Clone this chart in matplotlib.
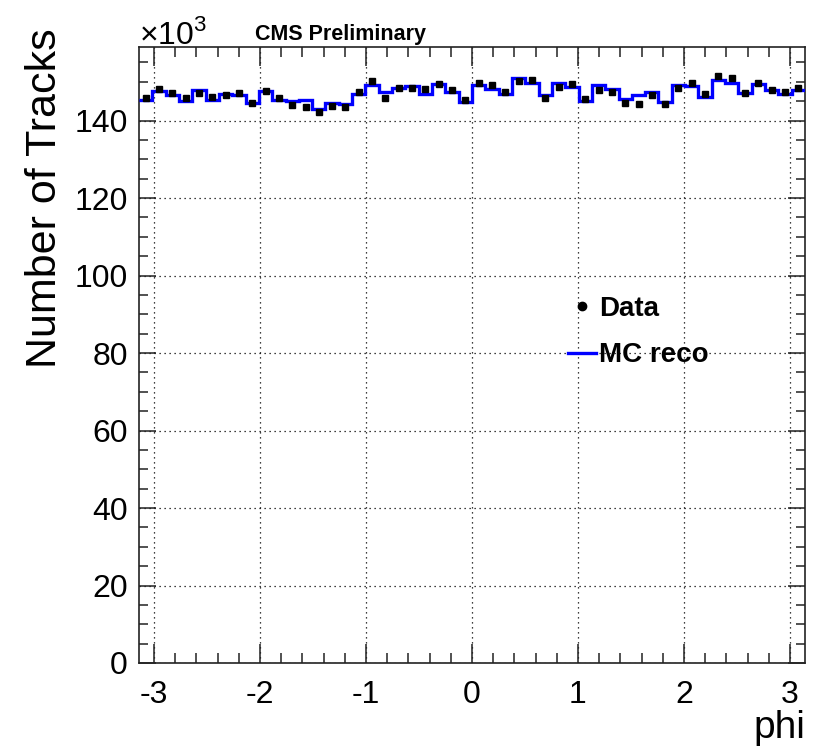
import numpy as np
import matplotlib
matplotlib.use("Agg")
import matplotlib.pyplot as plt
from matplotlib.lines import Line2D

plt.rcParams['font.family'] = ['Liberation Sans', 'DejaVu Sans']
plt.rcParams['mathtext.fontset'] = 'custom'
plt.rcParams['mathtext.rm'] = 'Liberation Sans'

# track counts per phi bin, in units of 1e3
n_bins = 50
data_k = [145.9, 148.1, 147.0, 145.8, 147.1, 146.2, 146.6, 147.1, 144.5, 147.7,
          145.9, 144.1, 143.6, 142.3, 143.8, 143.6, 147.4, 150.3, 145.8, 148.5,
          148.3, 148.1, 149.4, 147.9, 145.4, 149.7, 149.2, 147.5, 150.3, 150.4,
          145.8, 148.8, 149.5, 145.5, 147.9, 147.5, 144.5, 144.2, 146.6, 144.2,
          148.4, 149.6, 146.8, 151.4, 150.9, 147.1, 149.7, 147.9, 147.5, 148.4]
mc_k = [145.4, 147.7, 146.6, 145.1, 147.9, 145.4, 146.8, 146.6, 144.5, 147.7,
        145.4, 145.1, 145.4, 143.1, 144.5, 144.2, 146.8, 149.2, 147.3, 148.5,
        149.0, 146.8, 149.4, 147.4, 144.7, 149.2, 148.1, 146.8, 151.0, 149.6,
        146.6, 149.6, 148.8, 145.1, 149.2, 148.1, 145.5, 146.6, 147.5, 144.7,
        149.1, 149.0, 146.2, 150.4, 149.7, 147.0, 149.4, 147.9, 146.8, 147.9]

edges = np.linspace(-np.pi, np.pi, n_bins + 1)
centers = 0.5 * (edges[:-1] + edges[1:])
data = np.array(data_k)
err = np.sqrt(data * 1e3) / 1e3

fig = plt.figure(figsize=(8.19, 7.51), dpi=100)
ax = fig.add_axes([139/819, 1 - 663/751, 666/819, 616/751])

ax.stairs(mc_k, edges, baseline=None, color=(0, 0, 1), lw=2.4, zorder=3)
ax.errorbar(centers, data, yerr=err, fmt='s', color='black', ms=5,
            elinewidth=1, capsize=0, zorder=4)

ax.set_xlim(-np.pi, np.pi)
ax.set_ylim(0, 159)
ax.set_xticks(np.arange(-3, 4, 1))
ax.set_xticks(np.arange(-3.0, 3.2, 0.2), minor=True)
ax.set_yticks(np.arange(0, 160, 20))
ax.set_yticks(np.arange(0, 160, 5), minor=True)
ax.set_xticklabels(['-3', '-2', '-1', '0', '1', '2', '3'])

ax.grid(True, which='major', color='black', linestyle=(0, (1, 3)), lw=0.9)
ax.tick_params(which='both', direction='in', top=True, right=True,
               labelsize=23, width=1.1, color='#222222')
ax.tick_params(axis='x', which='major', length=14, pad=12)
ax.tick_params(axis='x', which='minor', length=7)
ax.tick_params(axis='y', which='major', length=12, pad=8)
ax.tick_params(axis='y', which='minor', length=6.5)
for s in ax.spines.values():
    s.set_color('#222222')
    s.set_linewidth(1.2)

# legend
legend_handles = [
    Line2D([], [], marker='o', ls='none', color='black', ms=6),
    Line2D([], [], color=(0, 0, 1), lw=2.4),
]
ax.legend(legend_handles, ['Data', 'MC reco'], loc='upper left',
          bbox_to_anchor=(0.607, 0.637), frameon=False, handlelength=1.0,
          handletextpad=0.1, labelspacing=0.75,
          prop={'weight': 'bold', 'size': 20})

fig.text(139/819, 1 - 44/751, r'$\times10^{3}$', fontsize=23, ha='left', va='baseline')
fig.text(255/819, 1 - 40/751, 'CMS Preliminary', fontsize=15.5,
         fontweight='bold', ha='left', va='baseline')
fig.text(45/819, 1 - 28/751, 'Number of Tracks', fontsize=31,
         rotation=90, ha='center', va='top')
fig.text(805/819, 1 - 710/751, 'phi', fontsize=28, ha='right', va='top')

fig.savefig('out.png', dpi=100)
